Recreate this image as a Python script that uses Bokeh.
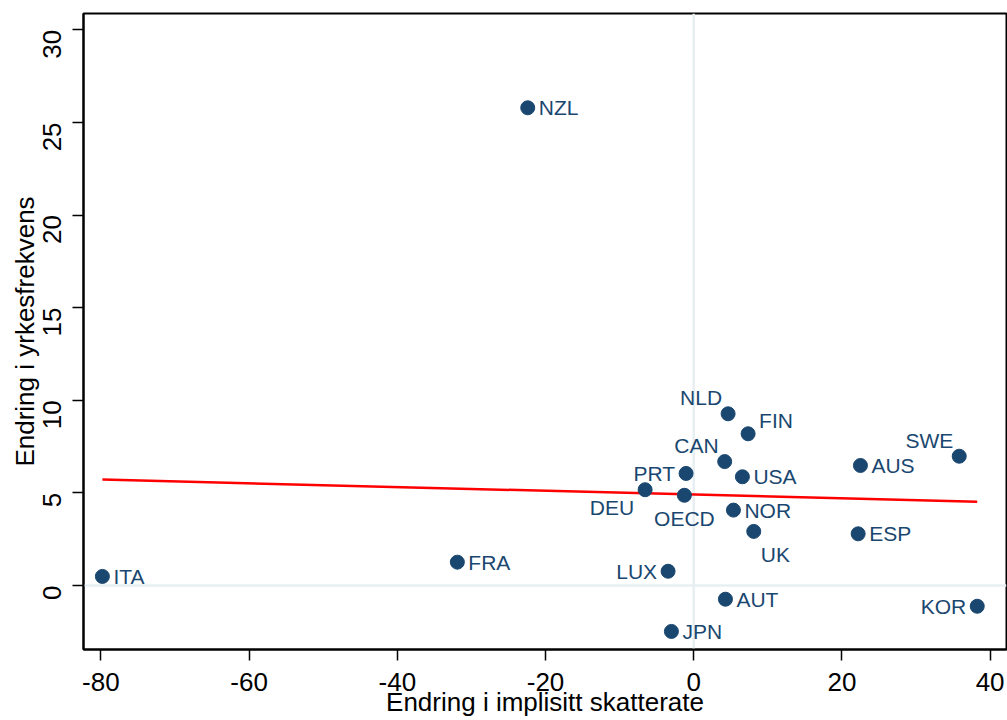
import math
from bokeh.plotting import figure
from bokeh.models import ColumnDataSource, Range1d, Span, FixedTicker
from bokeh.core.properties import value
from bokeh.embed import file_html
from bokeh.resources import INLINE

# ---- data ----
countries = ["ITA", "FRA", "NZL", "DEU", "PRT", "OECD", "LUX", "JPN", "AUT", "NLD",
             "FIN", "CAN", "USA", "NOR", "UK", "AUS", "ESP", "SWE", "KOR"]
tax_change = [-79.8, -31.9, -22.4, -6.56, -1.03, -1.26, -3.46, -3.01, 4.28, 4.64,
              7.34, 4.18, 6.57, 5.36, 8.10, 22.5, 22.19, 35.83, 38.26]
emp_change = [0.49, 1.26, 25.79, 5.17, 6.05, 4.87, 0.77, -2.48, -0.74, 9.27,
              8.19, 6.69, 5.87, 4.07, 2.92, 6.48, 2.79, 6.98, -1.12]
# marker label clock positions (as in Stata's mlabvposition)
label_clock = [3, 3, 3, 7, 9, 6, 9, 3, 3, 11,
               1, 11, 3, 3, 5, 3, 3, 11, 9]
# fitted line end values
fit_x = [-79.8, 38.26]
fit_y = [5.72, 4.52]

x_ticks = [-80, -60, -40, -20, 0, 20, 40]
y_ticks = [0, 5, 10, 15, 20, 25, 30]

# ---- style mapping for label positions ----
clock_style = {
    3: (11, 0, "left"),
    9: (-11, 0, "right"),
    11: (-6, -16, "right"),
    1: (11, -13, "left"),
    7: (-11, 18, "right"),
    6: (0, 23, "center"),
    5: (7, 23, "left"),
}
xo = [clock_style[c][0] for c in label_clock]
yo = [clock_style[c][1] for c in label_clock]
al = [clock_style[c][2] for c in label_clock]

src = ColumnDataSource(dict(x=tax_change, y=emp_change, lab=countries,
                            xo=xo, yo=yo, al=al))

NAVY = "#1a476f"
FONT = "Liberation Sans"

p = figure(width=1007, height=720, output_backend="svg", toolbar_location=None,
           x_range=Range1d(-82.35, 42.21), y_range=Range1d(-3.455, 30.88),
           min_border_left=83, min_border_right=1, min_border_top=13,
           min_border_bottom=71)

p.background_fill_color = "white"
p.border_fill_color = "white"
p.outline_line_color = "black"
p.outline_line_width = 2
p.xgrid.visible = False
p.ygrid.visible = False

# reference lines at 0
for dim, loc in (("height", 0), ("width", 0)):
    p.add_layout(Span(location=loc, dimension=dim, line_color="#e8eff2",
                      line_width=2.5, level="underlay"))

p.line(fit_x, fit_y, line_color="#ff0000", line_width=2.5)

p.scatter("x", "y", source=src, size=14, fill_color=NAVY, line_color=NAVY)
p.text("x", "y", text="lab", source=src, x_offset="xo", y_offset="yo",
       text_align="al", text_baseline="middle", text_color=NAVY,
       text_font=value(FONT), text_font_size="21px")

# axes
for ax in (p.xaxis[0], p.yaxis[0]):
    ax.axis_line_width = 2
    ax.axis_line_color = "black"
    ax.major_tick_line_width = 1.5
    ax.major_tick_line_color = "black"
    ax.major_tick_out = 11
    ax.major_tick_in = 0
    ax.minor_tick_line_color = None
    ax.major_label_text_font = FONT
    ax.major_label_text_font_size = "26px"
    ax.major_label_text_color = "black"
    ax.axis_label_text_font = FONT
    ax.axis_label_text_font_size = "26px"
    ax.axis_label_text_font_style = "normal"
    ax.axis_label_text_color = "black"

p.xaxis.ticker = FixedTicker(ticks=x_ticks)
p.yaxis.ticker = FixedTicker(ticks=y_ticks)
p.xaxis.major_label_overrides = {t: str(t) for t in x_ticks}
p.yaxis.major_label_overrides = {t: str(t) for t in y_ticks}
p.xaxis.axis_label = "Endring i implisitt skatterate"
p.yaxis.axis_label = "Endring i yrkesfrekvens"
p.xaxis.major_label_standoff = 12
p.xaxis.axis_label_standoff = -7
p.yaxis.major_label_standoff = 20
p.yaxis.axis_label_standoff = -8
p.yaxis.major_label_orientation = math.pi / 2

open("out.html", "w").write(file_html(p, INLINE))
